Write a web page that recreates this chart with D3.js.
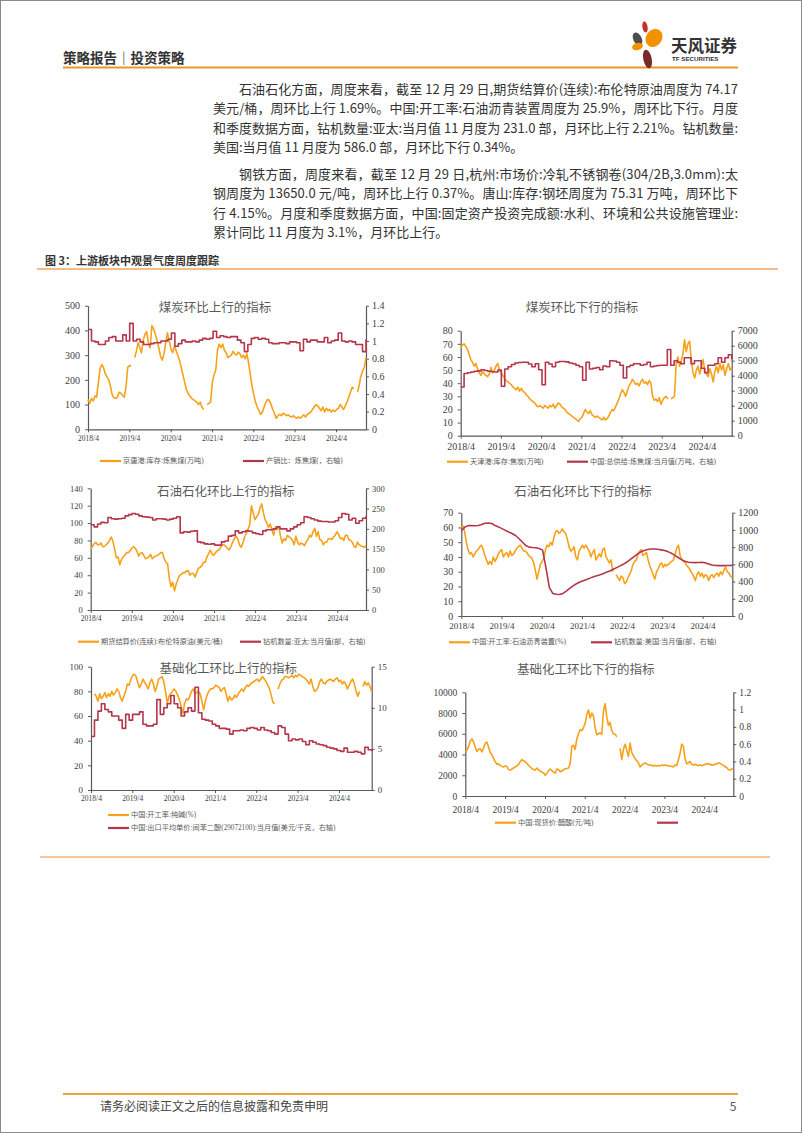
<!DOCTYPE html>
<html><head><meta charset="utf-8">
<script src="https://cdn.jsdelivr.net/npm/d3@7"></script>
<style>
html,body{margin:0;padding:0;background:#fff;}
svg{display:block;}
</style></head>
<body>
<svg id="page" width="802" height="1133"></svg>
<script>
// ---------------- DATA ----------------
const xTickLabels = ["2018/4","2019/4","2020/4","2021/4","2022/4","2023/4","2024/4"];

// 煤炭环比上行：京唐港:库存:炼焦煤(万吨) (half-monthly) ; 产销比：炼焦煤 (monthly, right)
const coalPortStock = [120,105,125,115,135,130,190,245,262,250,225,212,200,175,140,128,125,130,150,145,
 138,130,170,250,258,255,null,290,315,350,330,310,360,385,395,345,330,420,405,385,
 360,330,295,280,305,350,390,360,325,310,335,320,300,280,250,220,190,160,145,135,
 125,120,115,110,100,110,90,80,null,100,105,110,190,220,240,320,345,330,345,320,
 310,290,295,300,315,305,300,312,305,290,300,285,305,270,220,175,140,110,90,75,
 60,70,90,110,120,118,100,80,65,45,55,60,55,65,60,55,58,52,50,55,
 48,45,50,45,52,58,50,60,65,70,80,90,100,95,85,75,90,70,85,75,
 80,70,78,72,80,85,100,90,80,95,110,130,150,170,165,null,150,175,215,235,250,290];
const coalSalesRatio = [1.13,1.0,0.99,0.96,0.96,1.0,1.04,1.05,1.0,1.0,1.07,1.0,1.2,1.0,1.02,0.99,0.96,0.96,0.97,0.98,
 0.98,1.0,1.0,1.02,1.09,0.94,0.97,1.01,0.99,0.99,1.0,0.99,1.01,1.03,1.02,1.03,1.11,1.04,1.06,1.05,
 1.04,1.05,1.05,1.01,0.98,0.88,0.96,1.03,1.04,1.02,1.03,1.02,0.98,0.97,0.97,0.98,0.98,0.97,0.99,0.99,
 0.98,0.89,1.02,0.99,1.01,1.01,0.99,0.99,1.04,0.98,1.0,1.01,1.09,1.0,0.99,1.0,0.99,0.96,0.96,0.88,1.02];

// 煤炭环比下行：天津港:库存:焦炭(万吨) ; 中国:总供给:炼焦煤:当月值(万吨，右轴)
const cokeStock = [67,69,70,68,66,62,58,56,53,55,51,48,46,49,47,46,45,47,52,48,
 50,53,55,50,48,46,44,42,41,40,39,37,36,35,37,34,36,34,33,31,
 30,28,27,26,25,23,22,23,22,21,23,22,21,23,22,24,21,23,25,24,
 22,21,20,18,17,16,15,14,13,12,11,13,14,17,20,18,17,19,16,15,
 14,15,14,13,12,14,12,13,15,18,20,19,22,25,28,32,35,33,30,34,
 38,40,43,41,39,40,38,41,43,40,41,39,42,40,30,27,28,26,29,24,
 27,29,30,28,null,28,29,30,55,60,53,57,62,73,64,70,72,58,48,44,
 50,53,47,52,58,50,47,45,51,47,41,49,53,48,55,50,54,46,51,55,50,52];
const cokingCoalSupply = [3250,4150,4200,4250,4300,4320,4400,4350,4300,4260,4250,4380,3300,4450,4600,4750,4850,4880,4900,4900,
 4780,4600,4800,4400,3400,4900,4780,4600,4900,4950,4950,4920,4850,4800,4700,4600,3700,4900,4450,4500,
 4550,4400,4650,4600,5000,4980,4900,4700,3850,4600,4700,4800,4800,4700,4750,4900,4600,4650,4680,4700,
 4700,5750,4700,5000,4900,4800,5200,5200,4800,5000,5000,4500,4200,4700,4700,4800,5200,4900,5200,5400,5100];

// 石油石化环比上行：布伦特原油(美元/桶) ; 钻机数量:亚太(部，右轴)
const brentPrice = [70,73,76,78,75,75,77,73,73,75,77,80,84,79,70,60,61,52,58,61,
 63,66,66,68,71,73,71,68,62,65,66,63,59,60,61,64,59,61,62,63,
 64,66,66,59,55,53,36,27,32,22,30,35,40,41,43,43,45,45,40,42,
 42,38,43,48,49,51,55,55,61,65,69,64,63,66,68,69,72,75,75,73,
 71,69,73,78,82,85,82,75,72,77,84,88,93,98,120,112,104,107,110,117,
 122,112,104,100,95,99,92,86,95,93,96,85,77,82,80,86,84,83,80,75,
 85,78,75,77,76,74,78,81,86,84,90,94,85,90,81,80,75,78,78,82,
 82,81,84,86,90,87,82,83,80,86,86,81,80,78,73,72,78,75,74,73,72,74];
const apacRigs = [210,205,212,216,215,228,225,224,225,226,232,235,238,236,232,230,229,228,222,225,
 225,224,222,224,226,230,190,193,192,194,195,168,166,163,162,163,160,160,168,170,
 182,184,195,190,193,195,194,190,188,186,195,198,198,200,205,200,200,195,200,205,
 210,215,230,228,225,222,219,218,218,217,217,220,228,238,236,222,226,214,220,226,231];

// 石油石化环比下行：中国:开工率:石油沥青装置(%) ; 钻机数量:美国(部，右轴)
const asphaltRate = [60,61,57,50,45,42,43,40,42,44,45,47,48,45,41,38,35,37,35,40,
 37,39,42,44,45,40,42,43,40,44,41,42,44,46,47,48,46,44,44,43,
 41,40,39,36,31,25,30,35,37,39,45,48,47,50,48,53,57,58,56,57,
 59,57,56,52,47,44,45,47,40,38,44,46,48,46,48,46,44,40,43,45,
 38,40,42,40,45,46,40,38,36,38,30,null,28,26,24,27,26,22,23,26,
 28,31,35,37,38,42,44,45,41,42,43,38,34,31,28,25,30,32,35,36,
 33,35,34,35,36,37,38,42,46,48,41,38,37,36,34,33,31,29,27,24,
 28,30,27,29,26,28,27,24,27,28,26,28,29,27,30,28,31,33,30,29,27,26];
const usRigs = [990,1030,1050,1050,1048,1052,1062,1078,1080,
 1075,1050,1035,1015,995,975,958,935,900,860,820,800,
 795,792,785,765,560,330,262,252,250,262,290,320,
 350,375,395,410,425,440,455,468,480,495,510,525,
 545,565,585,605,630,660,690,720,745,760,772,778,
 778,775,768,760,748,730,705,680,655,635,625,622,
 620,622,623,618,605,592,586,585,587,585,586,588];

// 基础化工环比上行：中国:开工率:纯碱(%) ; 间苯二酚出口单价(美元/千克，右轴)
const sodaAshRate = [null,null,78,76,72,78,74,76,79,75,78,76,80,77,79,82,80,75,72,76,
 80,86,85,90,93,94,92,87,83,86,90,87,85,82,87,90,86,80,84,90,
 91,92,88,80,70,76,78,80,82,80,77,73,68,62,70,74,73,76,80,82,
 78,79,80,78,72,65,72,77,80,82,82,83,85,84,83,80,82,83,78,72,
 76,73,74,77,75,78,80,82,80,83,85,84,86,87,88,89,90,88,90,92,
 90,88,85,82,77,71,70,null,82,86,89,90,92,92,91,92,93,91,93,92,
 94,93,92,91,90,88,86,90,84,80,81,83,88,90,87,86,88,89,90,89,
 88,90,91,88,89,86,88,86,82,85,88,90,86,80,76,80,null,84,88,85,87,84,80];
const resorcinolPrice = [6.5,8.5,9.6,10.5,9.8,9.5,9.0,9.0,8.5,7.5,9.2,8.5,9.2,9.2,9.5,8.0,7.8,7.8,8.0,11.0,
 9.2,10.0,10.5,11.5,10.5,10.0,9.0,9.5,10.0,9.6,12.5,9.4,8.6,8.5,8.4,8.0,7.8,7.5,7.5,7.4,
 6.8,7.2,7.2,7.3,7.2,7.5,7.6,7.5,7.3,7.6,7.3,7.2,7.0,6.8,7.8,7.6,6.8,6.0,6.2,6.1,
 6.2,5.9,5.5,6.0,5.8,5.6,5.5,5.4,5.2,5.1,5.0,4.8,4.7,5.1,4.6,4.6,4.7,4.6,4.4,5.2,4.9,4.7];

// 基础化工环比下行：中国:现货价:醋酸(元/吨) ; (right series empty)
const aceticPrice = [4300,4400,4800,5300,5500,5200,4700,4300,4500,4550,4250,4600,5100,5200,4700,4200,3950,3600,3300,3050,
 3100,2950,2850,2800,2900,2850,2550,2500,2600,2700,2800,2900,3050,3300,3500,3400,3300,3150,2950,2800,
 2650,2550,2500,2700,2550,2400,2300,2250,2000,2200,2450,2600,2450,2300,2200,2600,2550,2350,2400,2550,
 2600,2650,2700,3100,4800,4900,4500,5500,6000,6400,6300,6600,7000,7800,8300,7500,8000,7700,6600,5900,
 6000,6100,5950,8200,8900,7600,6800,7100,6300,6000,5950,5700,null,4600,3500,4500,5000,4400,3800,5100,
 4200,3900,3600,3400,3200,2800,3000,3100,3200,3100,3000,3000,2950,2900,2950,2900,2950,2900,3000,2950,
 3000,2950,2900,2900,2850,2800,3000,2950,3500,4100,5000,4800,3600,3100,3200,3350,3050,3000,3050,3000,
 2950,3000,2900,3000,3050,3100,3100,3050,3000,3000,3050,3100,3200,3150,3050,2950,2850,2750,2550,2500,2600,2600];
const aceticRight = [];

// ---------------- TEXT ----------------
const headerText = "策略报告｜投资策略";
const para1 = [
 "石油石化方面，周度来看，截至 12 月 29 日,期货结算价(连续):布伦特原油周度为 74.17",
 "美元/桶，周环比上行 1.69%。中国:开工率:石油沥青装置周度为 25.9%，周环比下行。月度",
 "和季度数据方面，钻机数量:亚太:当月值 11 月度为 231.0 部，月环比上行 2.21%。钻机数量:",
 "美国:当月值 11 月度为 586.0 部，月环比下行 0.34%。"];
const para2 = [
 "钢铁方面，周度来看，截至 12 月 29 日,杭州:市场价:冷轧不锈钢卷(304/2B,3.0mm):太",
 "钢周度为 13650.0 元/吨，周环比上行 0.37%。唐山:库存:钢坯周度为 75.31 万吨，周环比下",
 "行 4.15%。月度和季度数据方面，中国:固定资产投资完成额:水利、环境和公共设施管理业:",
 "累计同比 11 月度为 3.1%，月环比上行。"];
const figTitle = "图 3：上游板块中观景气度周度跟踪";
const footerText = "请务必阅读正文之后的信息披露和免责申明";

// ---------------- DRAW ----------------
const svg = d3.select('#page');
const ORANGE = '#f7a11a', RED = '#b5364a', AX = '#595959';
const SANS = '"Noto Sans CJK SC","Noto Sans",sans-serif';
const SERIF = '"Liberation Serif","Noto Sans CJK SC",serif';
const start = new Date(2018, 3, 1);
const xTickDates = xTickLabels.map(s => new Date(+s.split('/')[0], +s.split('/')[1] - 1, 1));

// page border
svg.append('rect').attr('x',0.5).attr('y',0.5).attr('width',801).attr('height',1132)
  .attr('fill','none').attr('stroke','#8a8a8a').attr('stroke-width',1);

// header
svg.append('text').attr('x',63).attr('y',57).attr('dominant-baseline','central')
  .attr('font-family',SANS).attr('font-weight',700).attr('font-size',13.5).attr('fill','#333').text(headerText);
svg.append('line').attr('x1',63).attr('x2',738).attr('y1',67.5).attr('y2',67.5).attr('stroke','#e9962f').attr('stroke-width',2);

// logo
const logo = svg.append('g');
[[645,27,2.6,5.5,-10,'#c8312a'],[637.5,39,4.2,7,-25,'#4d4d4d'],[654,38,8,9.5,35,'#f39200'],
 [637.5,46.5,5.5,3.6,-15,'#f39200'],[647.5,59,4.2,9.5,-12,'#7a2a26']].forEach(p=>{
  logo.append('ellipse').attr('cx',p[0]).attr('cy',p[1]).attr('rx',p[2]).attr('ry',p[3])
    .attr('transform',`rotate(${p[4]},${p[0]},${p[1]})`).attr('fill',p[5]);
});
logo.append('text').attr('x',671).attr('y',45).attr('dominant-baseline','central').attr('font-family',SANS)
  .attr('font-weight',700).attr('font-size',16.5).attr('fill','#333').text('天风证券');
logo.append('text').attr('x',672).attr('y',58.5).attr('dominant-baseline','central').attr('font-family','"Liberation Sans",sans-serif')
  .attr('font-weight',700).attr('font-size',6.2).attr('fill','#333').text('TF SECURITIES');

// paragraphs
function para(lines, y0){
  lines.forEach((s,i)=>{
    const first = i===0, last = i===lines.length-1;
    const x = first ? 239 : 213;
    const t = svg.append('text').attr('x',x).attr('y',y0 + i*19.5).attr('dominant-baseline','central')
      .attr('font-family',SANS).attr('font-size',13).attr('fill','#333').text(s);
    if(!last) t.attr('textLength', 738 - x).attr('lengthAdjust','spacing');
  });
}
para(para1, 88);
para(para2, 173);

// figure title + frame lines
svg.append('text').attr('x',45).attr('y',260).attr('dominant-baseline','central').attr('font-family',SANS)
  .attr('font-weight',700).attr('font-size',11).attr('fill','#333').text(figTitle);
svg.append('line').attr('x1',37).attr('x2',778).attr('y1',269).attr('y2',269).attr('stroke','#f2a65a').attr('stroke-width',1.5);
svg.append('line').attr('x1',40).attr('x2',770).attr('y1',857).attr('y2',857).attr('stroke','#f7c497').attr('stroke-width',2);

// footer
svg.append('line').attr('x1',63).attr('x2',738).attr('y1',1094).attr('y2',1094).attr('stroke','#e9a33a').attr('stroke-width',2.2);
svg.append('text').attr('x',100).attr('y',1105).attr('dominant-baseline','central').attr('font-family',SANS)
  .attr('font-size',12).attr('fill','#444').text(footerText);
svg.append('text').attr('x',733).attr('y',1105).attr('text-anchor','middle').attr('dominant-baseline','central').attr('font-family',SANS)
  .attr('font-size',12).attr('fill','#555').text('5');

function dated(values, end){
  const n = values.length, t0 = +start, t1 = +end;
  return values.map((v,i)=>({d:new Date(t0 + (t1-t0)*i/(n-1)), v}));
}

function drawChart(c){
  const g = svg.append('g');
  const x = d3.scaleTime().domain([start, c.end]).range([c.l, c.r]);
  const yL = d3.scaleLinear().domain([0, c.lMax]).range([c.b, c.t]);
  const yR = d3.scaleLinear().domain([0, c.rMax]).range([c.b, c.t]);

  const xa = g.append('g').attr('transform',`translate(0,${c.b})`)
    .call(d3.axisBottom(x).tickValues(xTickDates).tickFormat((d,i)=>xTickLabels[i])
      .tickSize(3).tickSizeOuter(0).tickPadding(c.xPad));
  xa.attr('font-size', c.xFs);
  const la = g.append('g').attr('transform',`translate(${c.l},0)`)
    .call(d3.axisLeft(yL).tickValues(d3.range(0, c.lMax + c.lStep/2, c.lStep)).tickFormat(d3.format('d'))
      .tickSize(3).tickSizeOuter(0).tickPadding(5));
  la.attr('font-size', c.yFs);
  const ra = g.append('g').attr('transform',`translate(${c.r},0)`)
    .call(d3.axisRight(yR).tickValues(d3.range(0, c.rMax + c.rStep/2, c.rStep)).tickFormat(d=>String(+d.toFixed(2)))
      .tickSize(3).tickSizeOuter(0).tickPadding(3));
  ra.attr('font-size', c.yFs);
  g.selectAll('.domain').attr('stroke', AX).attr('stroke-width',1.2);
  g.selectAll('.tick line').attr('stroke', AX);
  g.selectAll('.tick text').attr('fill', '#404040');
  g.selectAll('g').attr('font-family', SERIF);

  // title
  g.append('text').attr('x',c.tx).attr('y',c.ty).attr('text-anchor','middle').attr('dominant-baseline','central')
    .attr('font-family',SANS).attr('font-size',12.5).attr('fill','#5a5a5a').text(c.title);

  const mk = (y, curve) => d3.line().defined(d=>d.v!=null).x(d=>x(d.d)).y(d=>y(d.v)).curve(curve);
  g.append('path').datum(dated(c.left, c.end)).attr('d', mk(yL, d3.curveLinear))
    .attr('fill','none').attr('stroke',ORANGE).attr('stroke-width',1.6).attr('stroke-linejoin','round');
  if (c.right.length){
    g.append('path').datum(dated(c.right, c.end)).attr('d', mk(yR, c.step ? d3.curveStepAfter : d3.curveLinear))
      .attr('fill','none').attr('stroke',RED).attr('stroke-width',1.6).attr('stroke-linejoin','round');
  }

  // legend
  c.legend.forEach(it=>{
    g.append('line').attr('x1',it.x).attr('x2',it.x+21).attr('y1',it.y).attr('y2',it.y)
      .attr('stroke', it.c).attr('stroke-width',2.2);
    if (it.text) g.append('text').attr('x',it.x+23).attr('y',it.y).attr('dominant-baseline','central')
      .attr('font-family',SERIF).attr('font-size',7.2).attr('fill','#595959').text(it.text);
  });
}

drawChart({title:'煤炭环比上行的指标', tx:215, ty:306, l:88, r:366, t:305.7, b:429.3,
  end:new Date(2024,11,22), lMax:500, lStep:100, rMax:1.4, rStep:0.2, xFs:7.5, yFs:10, xPad:3,
  left:coalPortStock, right:coalSalesRatio, step:true,
  legend:[{x:100,y:461,c:ORANGE,text:'京唐港:库存:炼焦煤(万吨)'},{x:243,y:461,c:RED,text:'产销比：炼焦煤(，右轴)'}]});

drawChart({title:'煤炭环比下行的指标', tx:582, ty:306.7, l:460.7, r:731.7, t:330.7, b:435.7,
  end:new Date(2024,11,27), lMax:80, lStep:10, rMax:7000, rStep:1000, xFs:10, yFs:10, xPad:4,
  left:cokeStock, right:cokingCoalSupply, step:true,
  legend:[{x:447,y:461.7,c:ORANGE,text:'天津港:库存:焦炭(万吨)'},{x:567,y:461.7,c:RED,text:'中国:总供给:炼焦煤:当月值(万吨，右轴)'}]});

drawChart({title:'石油石化环比上行的指标', tx:225.7, ty:490, l:90.7, r:366, t:488.3, b:610,
  end:new Date(2024,11,12), lMax:140, lStep:20, rMax:300, rStep:50, xFs:7.5, yFs:8.5, xPad:3,
  left:brentPrice, right:apacRigs, step:true,
  legend:[{x:78,y:641.7,c:ORANGE,text:'期货结算价(连续):布伦特原油(美元/桶)'},{x:240,y:641.7,c:RED,text:'钻机数量:亚太:当月值(部，右轴)'}]});

drawChart({title:'石油石化环比下行的指标', tx:583, ty:490.7, l:461.3, r:732.3, t:512.7, b:616,
  end:new Date(2024,11,27), lMax:70, lStep:10, rMax:1200, rStep:200, xFs:9, yFs:10, xPad:4,
  left:asphaltRate, right:usRigs, step:false,
  legend:[{x:449,y:642.3,c:ORANGE,text:'中国:开工率:石油沥青装置(%)'},{x:591,y:642.3,c:RED,text:'钻机数量:美国:当月值(部，右轴)'}]});

drawChart({title:'基础化工环比上行的指标', tx:228.3, ty:667.3, l:91, r:371.7, t:666.7, b:790,
  end:new Date(2025,0,15), lMax:100, lStep:20, rMax:15, rStep:5, xFs:7.5, yFs:9, xPad:3,
  left:sodaAshRate, right:resorcinolPrice, step:true,
  legend:[{x:108,y:815,c:ORANGE,text:'中国:开工率:纯碱(%)'},{x:108,y:828,c:RED,text:'中国:出口平均单价:间苯二酚(29072100):当月值(美元/千克，右轴)'}]});

drawChart({title:'基础化工环比下行的指标', tx:585.7, ty:668.3, l:465.3, r:733.3, t:692.3, b:796,
  end:new Date(2024,11,23), lMax:10000, lStep:2000, rMax:1.2, rStep:0.2, xFs:9.5, yFs:9.5, xPad:7,
  left:aceticPrice, right:aceticRight, step:false,
  legend:[{x:495,y:822.7,c:ORANGE,text:'中国:现货价:醋酸(元/吨)'},{x:657,y:822.7,c:RED,text:''}]});
</script>
</body></html>
